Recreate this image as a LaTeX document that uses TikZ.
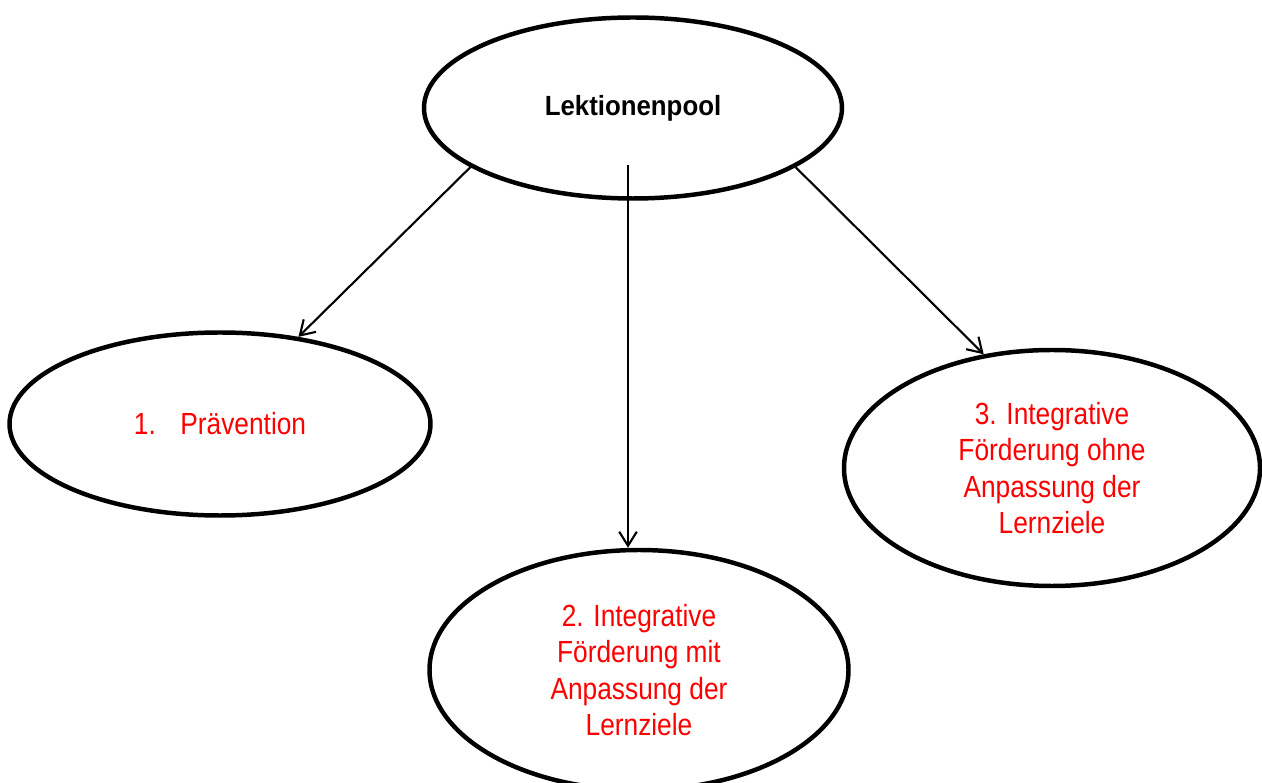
\documentclass[tikz,border=0pt]{standalone}
\usepackage{fontspec}
\setmainfont{Liberation Sans}[FakeStretch=0.86]
\newfontfamily\poolfont{Liberation Sans}[FakeStretch=0.93]
\definecolor{lektred}{HTML}{FF0000}
\usepackage{tikz}
\usetikzlibrary{arrows.meta, positioning, shapes.geometric}

\begin{document}
\begin{tikzpicture}[x=0.02cm, y=-0.02cm,
    lesson/.style={draw, ellipse, line width=2.55pt, inner sep=0pt, align=center},
    redtext/.style={text=lektred, font=\fontsize{17.4}{20.7}\selectfont},
    poolarrow/.style={line width=1.2pt, -{Straight Barb[length=8pt, width=10pt]}}]
      \useasboundingbox (0,0) rectangle (1262,783);
      \node[lesson, minimum width=418*0.02cm, minimum height=181*0.02cm,
            font=\poolfont\bfseries\fontsize{15.8}{19}\selectfont] (pool)
            at (633,108) {\raisebox{-2pt}{Lektionenpool}};
      \node[lesson, redtext, minimum width=421*0.02cm, minimum height=183*0.02cm]
            (praev) at (220,424) {1.\hspace{14pt}Prävention};
      \node[lesson, redtext, minimum width=419*0.02cm, minimum height=240*0.02cm]
            (foerdmit) at (639,670)
            {2. Integrative\\Förderung mit\\Anpassung der\\Lernziele};
      \node[lesson, redtext, minimum width=416*0.02cm, minimum height=236*0.02cm]
            (foerdohne) at (1052,468)
            {3. Integrative\\Förderung ohne\\Anpassung der\\Lernziele};
      \coordinate (poolfoot) at (628,165);
      \draw[poolarrow] (pool.-160.6) -- (praev.48.8);
      \draw[poolarrow] (poolfoot) -- (poolfoot |- foerdmit.north);
      \draw[poolarrow] (pool.-20.1) -- (foerdohne.121.4);
    \end{tikzpicture}
\end{document}
